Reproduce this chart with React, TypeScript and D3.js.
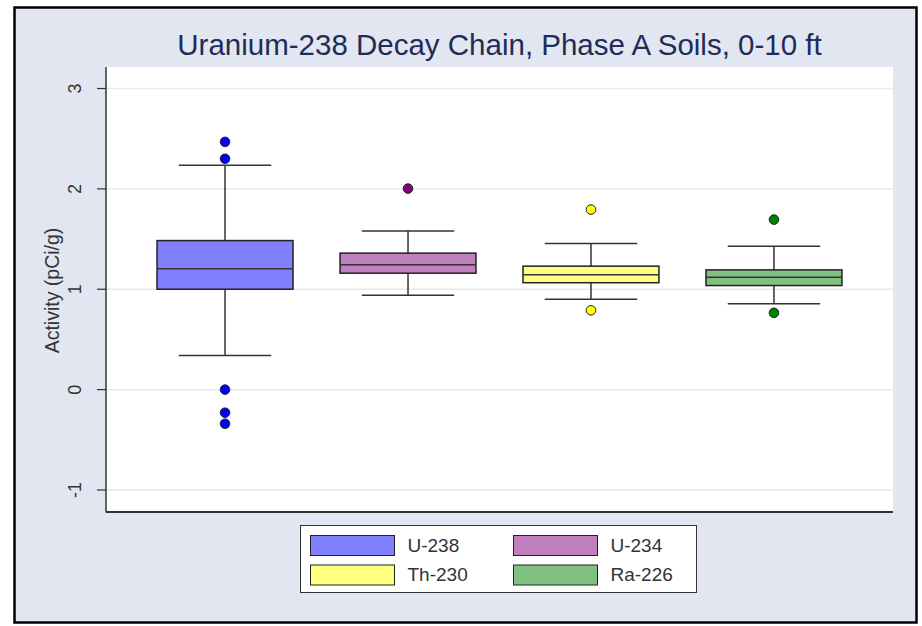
import { useEffect, useRef } from "react";
import * as d3 from "d3";

// Box summaries (pCi/g)
const categories = ["U-238", "U-234", "Th-230", "Ra-226"];
const q1 = [1.0, 1.16, 1.065, 1.037];
const medians = [1.205, 1.245, 1.145, 1.12];
const q3 = [1.485, 1.36, 1.23, 1.193];
const whiskerLow = [0.34, 0.94, 0.9, 0.855];
const whiskerHigh = [2.235, 1.58, 1.455, 1.428];
const outliers = [
  [2.468, 2.3, 0.0, -0.23, -0.34],
  [2.003],
  [1.794, 0.79],
  [1.694, 0.765],
];
const boxColors = ["#8080FF", "#C080C0", "#FFFF80", "#80C080"];
const dotColors = ["#0000FF", "#800080", "#FFFF00", "#008000"];
const yTicks = [-1, 0, 1, 2, 3];

const W = 922;
const H = 626;
const plot = { left: 106, right: 893, top: 67, bottom: 512 };

const App = () => {
  const svgRef = useRef<SVGSVGElement>(null);

  useEffect(() => {
    if (!svgRef.current) return;
    const svg = d3.select(svgRef.current);
    svg.selectAll("*").remove();

    const font = "Arial, 'Liberation Sans', Helvetica, sans-serif";

    // outer frame
    svg.append("rect").attr("x", 0).attr("y", 0).attr("width", W).attr("height", H).attr("fill", "#ffffff");
    svg.append("rect")
      .attr("x", 14.5).attr("y", 7.5).attr("width", 902).attr("height", 615)
      .attr("fill", "#E1E6F0").attr("stroke", "#000").attr("stroke-width", 2.5);

    // plot area
    svg.append("rect")
      .attr("x", plot.left).attr("y", plot.top)
      .attr("width", plot.right - plot.left).attr("height", plot.bottom - plot.top)
      .attr("fill", "#ffffff");

    const y = d3.scaleLinear().domain([-1, 3]).range([490, 88.5]);
    const x = d3.scaleBand<string>()
      .domain(categories)
      .range([plot.left, plot.right])
      .paddingInner(0.257)
      .paddingOuter(0.279);

    // grid
    svg.append("g").selectAll("line").data(yTicks).enter().append("line")
      .attr("x1", plot.left).attr("x2", plot.right)
      .attr("y1", (d) => y(d)).attr("y2", (d) => y(d))
      .attr("stroke", "#E6E9F2").attr("stroke-width", 1.5);

    // y ticks + labels
    const ticks = svg.append("g");
    ticks.selectAll("line").data(yTicks).enter().append("line")
      .attr("x1", plot.left - 9).attr("x2", plot.left)
      .attr("y1", (d) => y(d)).attr("y2", (d) => y(d))
      .attr("stroke", "#333").attr("stroke-width", 1.2);
    ticks.selectAll("text").data(yTicks).enter().append("text")
      .attr("transform", (d) => `translate(81,${y(d)}) rotate(-90)`)
      .attr("text-anchor", "middle")
      .attr("font-family", font).attr("font-size", 18).attr("fill", "#333")
      .text((d) => String(d));

    // axis lines
    svg.append("line").attr("x1", plot.left).attr("x2", plot.left).attr("y1", plot.top).attr("y2", plot.bottom + 0.5)
      .attr("stroke", "#333").attr("stroke-width", 1.5);
    svg.append("line").attr("x1", plot.left).attr("x2", plot.right).attr("y1", plot.bottom).attr("y2", plot.bottom)
      .attr("stroke", "#333").attr("stroke-width", 1.8);

    // y label
    svg.append("text")
      .attr("transform", `translate(59,${(plot.top + plot.bottom) / 2 + 1}) rotate(-90)`)
      .attr("text-anchor", "middle")
      .attr("font-family", font).attr("font-size", 19.5).attr("fill", "#333")
      .text("Activity (pCi/g)");

    // title
    svg.append("text")
      .attr("x", (plot.left + plot.right) / 2).attr("y", 55)
      .attr("text-anchor", "middle")
      .attr("font-family", font).attr("font-size", 29.5).attr("fill", "#1F2C58")
      .text("Uranium-238 Decay Chain, Phase A Soils, 0-10 ft");

    // boxes
    const bw = x.bandwidth();
    const capW = bw * 0.68;
    categories.forEach((c, i) => {
      const g = svg.append("g");
      const cx = (x(c) as number) + bw / 2;
      const line = (x1: number, y1: number, x2: number, y2: number) =>
        g.append("line").attr("x1", x1).attr("y1", y1).attr("x2", x2).attr("y2", y2)
          .attr("stroke", "#333").attr("stroke-width", 1.5);
      line(cx, y(whiskerHigh[i]), cx, y(q3[i]));
      line(cx, y(q1[i]), cx, y(whiskerLow[i]));
      line(cx - capW / 2, y(whiskerHigh[i]), cx + capW / 2, y(whiskerHigh[i]));
      line(cx - capW / 2, y(whiskerLow[i]), cx + capW / 2, y(whiskerLow[i]));
      g.append("rect")
        .attr("x", x(c) as number).attr("y", y(q3[i]))
        .attr("width", bw).attr("height", y(q1[i]) - y(q3[i]))
        .attr("fill", boxColors[i]).attr("stroke", "#222").attr("stroke-width", 1.5);
      line(x(c) as number, y(medians[i]), (x(c) as number) + bw, y(medians[i]));
      g.selectAll("circle").data(outliers[i]).enter().append("circle")
        .attr("cx", cx).attr("cy", (d) => y(d)).attr("r", 4.8)
        .attr("fill", dotColors[i]).attr("stroke", "#222").attr("stroke-width", 1);
    });

    // legend
    const lg = svg.append("g");
    lg.append("rect").attr("x", 300.5).attr("y", 525.5).attr("width", 396).attr("height", 67)
      .attr("fill", "#fff").attr("stroke", "#333").attr("stroke-width", 1);
    categories.forEach((c, i) => {
      const col = i % 2;
      const row = Math.floor(i / 2);
      const sx = 310.5 + col * 203;
      const sy = 535.5 + row * 29.5;
      lg.append("rect").attr("x", sx).attr("y", sy).attr("width", 84).attr("height", 20)
        .attr("fill", boxColors[i]).attr("stroke", "#222").attr("stroke-width", 1);
      lg.append("text").attr("x", sx + 97).attr("y", sy + 16)
        .attr("font-family", font).attr("font-size", 19).attr("fill", "#333")
        .text(c);
    });
  }, []);

  return (
    <svg
      ref={svgRef}
      width={W}
      height={H}
      style={{ position: "absolute", left: 0, top: 0, display: "block" }}
    />
  );
};

export default App;
